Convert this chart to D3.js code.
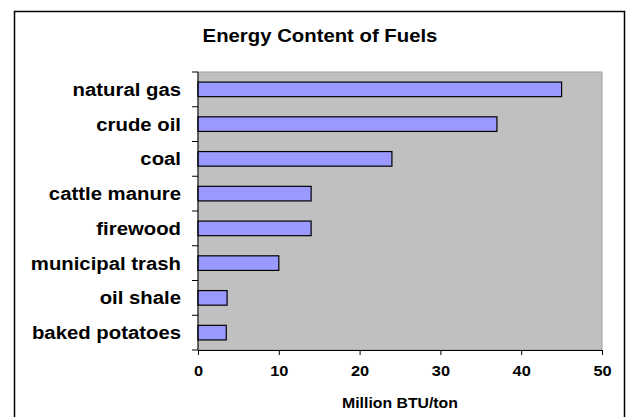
<!DOCTYPE html>
<html>
<head>
<meta charset="utf-8">
<script src="https://cdn.jsdelivr.net/npm/d3@7"></script>
<style>
  body { margin: 0; background: #fff; }
  text { font-family: "Liberation Sans", Arial, sans-serif; font-weight: bold; fill: #000; }
</style>
</head>
<body>
<div id="chart"></div>
<script>
// fuel categories, top to bottom
var fuels = ["natural gas", "crude oil", "coal", "cattle manure", "firewood",
             "municipal trash", "oil shale", "baked potatoes"];
var btu = [45, 37, 24, 14, 14, 10, 3.6, 3.5];
var xTicks = [0, 10, 20, 30, 40, 50];

var width = 630, height = 417;
var stretch = 1.13; // the original text looks a bit wide
var svg = d3.select("#chart").append("svg")
  .attr("width", width)
  .attr("height", height);

// outer chart frame
svg.append("rect")
  .attr("x", 14.5).attr("y", 11.5)
  .attr("width", 610).attr("height", 420)
  .attr("fill", "#fff")
  .attr("stroke", "#000")
  .attr("stroke-width", 1.5);

var pLeft = 198, pRight = 602, pTop = 72, pBottom = 350;

var x = d3.scaleLinear().domain([0, 50]).range([pLeft, pRight]);
var y = d3.scaleBand().domain(fuels).range([pTop, pBottom]).paddingInner(0.58).paddingOuter(0.29);

svg.append("rect")
  .attr("x", pLeft).attr("y", pTop)
  .attr("width", pRight - pLeft).attr("height", pBottom - pTop)
  .attr("fill", "#c0c0c0")
  .attr("stroke", "#a0a0a0");

svg.selectAll(".bar")
  .data(fuels)
  .enter()
  .append("rect")
  .attr("class", "bar")
  .attr("x", x(0))
  .attr("y", function(d) { return y(d); })
  .attr("width", function(d, i) { return x(btu[i]) - x(0); })
  .attr("height", y.bandwidth())
  .attr("fill", "#9999ff")
  .attr("stroke", "#000")
  .attr("stroke-width", 1.2);

// y axis: ticks between the categories
var yAxis = svg.append("g");
yAxis.append("line")
  .attr("x1", pLeft).attr("x2", pLeft)
  .attr("y1", pTop).attr("y2", pBottom)
  .attr("stroke", "#000");
var step = (pBottom - pTop) / fuels.length;
yAxis.selectAll(".yt")
  .data(d3.range(fuels.length + 1))
  .enter()
  .append("line")
  .attr("x1", pLeft - 6).attr("x2", pLeft)
  .attr("y1", function(d) { return pTop + d * step; })
  .attr("y2", function(d) { return pTop + d * step; })
  .attr("stroke", "#000");
yAxis.selectAll(".lab")
  .data(fuels)
  .enter()
  .append("text")
  .attr("transform", function(d) {
    return "translate(181," + (y(d) + y.bandwidth() / 2) + ") scale(" + stretch + ",1)";
  })
  .attr("dy", "0.36em")
  .attr("text-anchor", "end")
  .attr("font-size", "18px")
  .text(function(d) { return d; });

// x axis
var xAxis = svg.append("g")
  .attr("transform", "translate(0," + pBottom + ")")
  .call(d3.axisBottom(x).tickValues(xTicks).tickSize(5).tickPadding(11).tickSizeOuter(0));
xAxis.select(".domain").attr("stroke", "#000");
xAxis.selectAll("text")
  .attr("font-size", "14.5px")
  .attr("font-family", "Liberation Sans, Arial, sans-serif")
  .attr("font-weight", "bold")
  .attr("transform", "scale(" + stretch + ",1)");

svg.append("text")
  .attr("transform", "translate(" + ((pLeft + pRight) / 2) + ",408) scale(" + stretch + ",1)")
  .attr("text-anchor", "middle")
  .attr("font-size", "14px")
  .text("Million BTU/ton");

svg.append("text")
  .attr("transform", "translate(320,42) scale(" + stretch + ",1)")
  .attr("text-anchor", "middle")
  .attr("font-size", "18px")
  .text("Energy Content of Fuels");
</script>
</body>
</html>
